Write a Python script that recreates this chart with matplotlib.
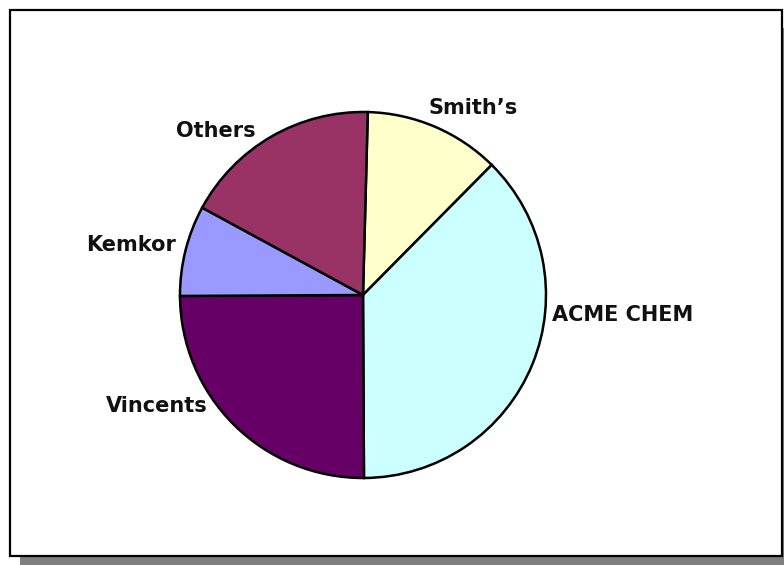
import matplotlib
matplotlib.use("Agg")
import matplotlib.pyplot as plt
from matplotlib.patches import Rectangle

# ── Data ───────────────────────────────────────────
companies = ["Smith\u2019s", "ACME CHEM", "Vincents", "Kemkor", "Others"]
shares    = [12, 37.5, 25, 8, 17.5]
colors    = ["#FFFFCC", "#CCFFFF", "#660066", "#9999FF", "#993366"]

# label positions in pixel space (x, y from top)
label_pos = [(473, 108), (623, 315), (157, 406), (131, 245), (216, 131)]

W, H = 784, 565
CX, CY, R = 363, 295, 183

fig = plt.figure(figsize=(W / 100, H / 100), dpi=100)
ax = fig.add_axes([0, 0, 1, 1])

# shadow + frame
ax.add_patch(Rectangle((20, -20), 775, 557,
                       facecolor="#7f7f7f", edgecolor="none", zorder=0))
ax.add_patch(Rectangle((10, H - 556), 772, 546,
                       facecolor="white", edgecolor="black", linewidth=1.6, zorder=1))

ax.pie(shares, colors=colors, startangle=88.5, counterclock=False,
       center=(CX, H - CY), radius=R, frame=True,
       wedgeprops=dict(edgecolor="black", linewidth=1.8, zorder=2))
ax.set_xlim(0, W)
ax.set_ylim(0, H)
ax.axis("off")

for name, (px, py) in zip(companies, label_pos):
    ax.text(px, H - py, name, ha="center", va="center",
            fontsize=15, fontweight="bold", color="#111111", zorder=3)

plt.savefig("out.png", dpi=100)
plt.close()
